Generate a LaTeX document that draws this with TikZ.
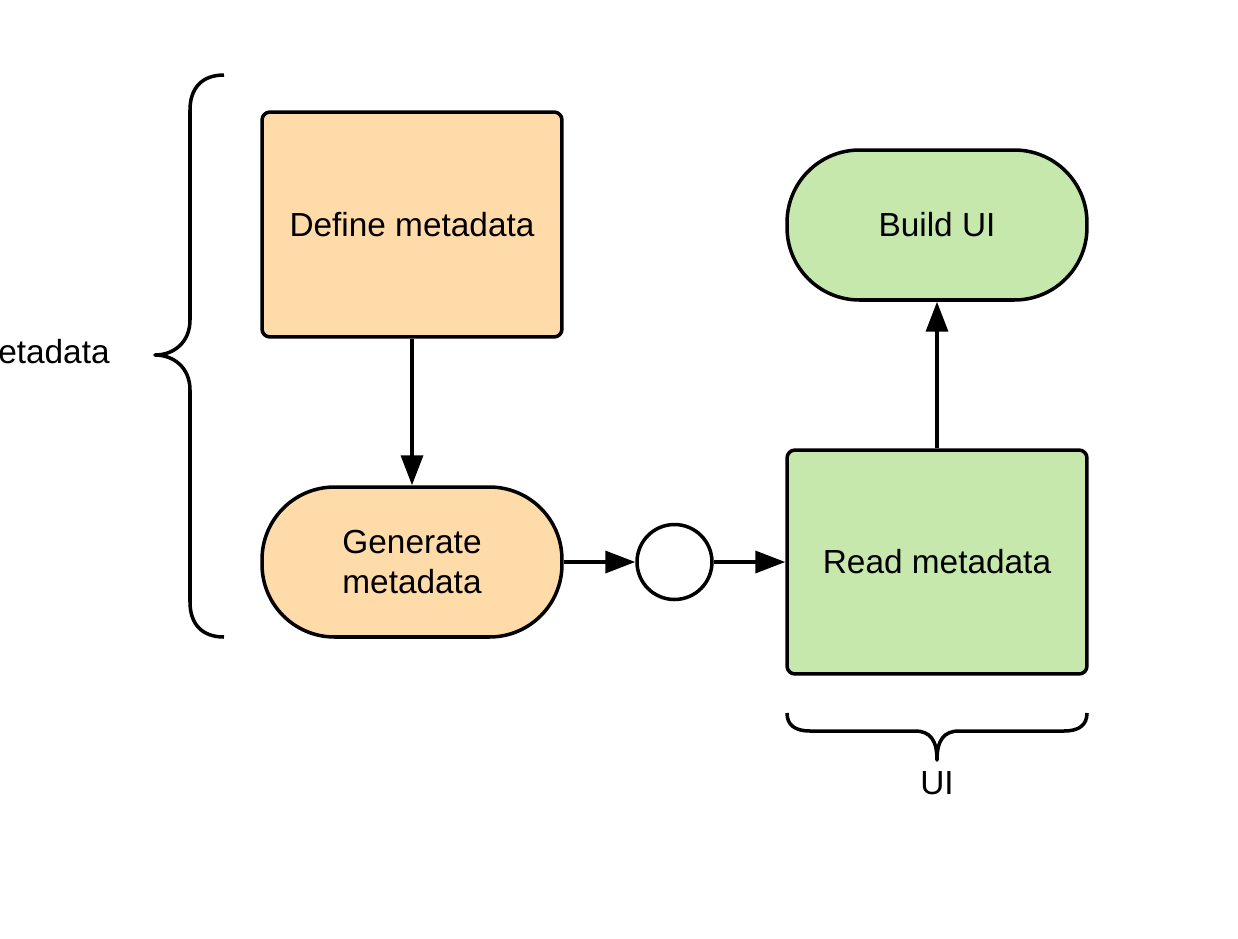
\documentclass[tikz,border=0pt]{standalone}
\usepackage{fontspec}
\setmainfont{Liberation Sans}
\usetikzlibrary{arrows.meta}
\definecolor{orangefill}{HTML}{FFDBA9}
\definecolor{greenfill}{HTML}{C7E8AC}
\tikzset{
    box/.style={draw, line width=2pt, rounded corners=0.16cm, minimum width=6cm, minimum height=4.5cm, inner sep=0mm, align=center},
    pill/.style={draw, line width=2pt, rounded corners=1.45cm, minimum width=6cm, minimum height=3cm, inner sep=0mm, align=center},
    junction/.style={draw, circle, line width=2pt, fill=white, minimum size=1.5cm, inner sep=0mm},
    arr/.style={line width=2pt, -{Triangle[length=0.6cm, width=0.44cm]}},
    bracket/.style={line width=2pt, line join=round},
    empty/.style={draw=none, fill=none, inner sep=0mm}
}

\begin{document}
\begin{tikzpicture}[x=0.02cm, y=-0.02cm, font=\fontsize{19}{23}\selectfont]
    \useasboundingbox (0,0) rectangle (1238,938);

    \node (define) at (412, 224.5) [box, fill=orangefill] {Define metadata};
    \node (generate) at (412, 562) [pill, fill=orangefill] {Generate\\metadata};
    \node (join) at (674.5, 562) [junction] {};
    \node (read) at (937, 562) [box, fill=greenfill, minimum height=4.48cm] {Read metadata};
    \node (build) at (937, 225) [pill, fill=greenfill] {Build UI};

    \draw[arr] (define) -- (generate);
    \draw[arr] (generate) -- (join);
    \draw[arr] (join) -- (read);
    \draw[arr] (read) -- (build);

    % braces
    \coordinate (lb) at (155, 355);
    \draw[bracket] (224, 75) .. controls (202, 75) and (190, 88) .. (190, 110) -- (190, 320)
        .. controls (190, 342) and (174, 355) .. (lb)
        .. controls (174, 355) and (190, 368) .. (190, 390) -- (190, 602)
        .. controls (190, 624) and (202, 637) .. (224, 637);
    \node (meta) [empty, anchor=east] at (110, 352) {Metadata};

    \coordinate (bb) at (937, 760);
    \draw[bracket] (787, 713) .. controls (787, 725) and (795, 731) .. (810, 731) -- (915, 731)
        .. controls (930, 731) and (937, 740) .. (bb)
        .. controls (937, 740) and (944, 731) .. (959, 731) -- (1064, 731)
        .. controls (1079, 731) and (1087, 725) .. (1087, 713);
    \node (ui) [empty] at (937, 783) {UI};
\end{tikzpicture}
\end{document}
